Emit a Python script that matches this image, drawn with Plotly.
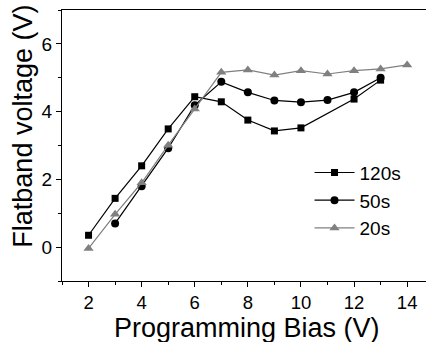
import plotly.graph_objects as go

bias_120 = [2, 3, 4, 5, 6, 7, 8, 9, 10, 12, 13]
vfb_120 = [0.35, 1.44, 2.40, 3.49, 4.44, 4.29, 3.75, 3.43, 3.52, 4.37, 4.93]

bias_50 = [3, 4, 5, 6, 7, 8, 9, 10, 11, 12, 13]
vfb_50 = [0.70, 1.80, 2.92, 4.19, 4.88, 4.57, 4.33, 4.28, 4.34, 4.57, 5.00]

bias_20 = [2, 3, 4, 5, 6, 7, 8, 9, 10, 11, 12, 13, 14]
vfb_20 = [-0.04, 0.97, 1.90, 3.01, 4.08, 5.16, 5.23, 5.08, 5.21, 5.11, 5.21, 5.26, 5.38]

x_ticks = [2, 4, 6, 8, 10, 12, 14]
y_ticks = [0, 2, 4, 6]
x_title = "Programming Bias (V)"
y_title = "Flatband voltage (V)"

FONT = "Liberation Sans, Arial, sans-serif"

fig = go.Figure()
fig.add_trace(go.Scatter(x=bias_120, y=vfb_120, name="120s", mode="lines+markers",
                         line=dict(color="black", width=1.2),
                         marker=dict(symbol="square", size=7, color="black")))
fig.add_trace(go.Scatter(x=bias_50, y=vfb_50, name="50s", mode="lines+markers",
                         line=dict(color="black", width=1.2),
                         marker=dict(symbol="circle", size=8, color="black")))
fig.add_trace(go.Scatter(x=bias_20, y=vfb_20, name="20s", mode="lines+markers",
                         line=dict(color="#808080", width=1.2),
                         marker=dict(symbol="triangle-up", size=9, color="#808080")))

fig.update_layout(
    width=426, height=342,
    margin=dict(l=62, r=0, t=10, b=61),
    paper_bgcolor="white", plot_bgcolor="white",
    font=dict(family=FONT, color="black", size=19),
    showlegend=True,
    legend=dict(x=0.68, y=0.47, xanchor="left", yanchor="top",
                bgcolor="rgba(0,0,0,0)", font=dict(size=19),
                tracegroupgap=0, itemwidth=40),
    xaxis=dict(range=[1, 14.71], tickvals=x_ticks, ticks="outside", ticklen=5,
               tickwidth=1, tickcolor="black", showline=True, linecolor="black",
               linewidth=1.2, mirror=True, showgrid=False, zeroline=False,
               automargin=False,
               minor=dict(dtick=1, tick0=1, ticks="outside", ticklen=3, tickcolor="black"),
               tickfont=dict(size=18.5)),
    yaxis=dict(range=[-1, 7], tickvals=y_ticks, ticks="outside", ticklen=5,
               tickwidth=1, tickcolor="black", showline=True, linecolor="black",
               linewidth=1.2, showgrid=False, zeroline=False,
               automargin=False,
               minor=dict(dtick=1, tick0=1, ticks="outside", ticklen=3, tickcolor="black"),
               tickfont=dict(size=19)),
    annotations=[
        dict(text=x_title, xref="paper", yref="paper", x=0.5096, y=-0.1734,
             xanchor="center", yanchor="middle", showarrow=False,
             font=dict(size=27)),
        dict(text=y_title, xref="paper", yref="paper", x=-0.108, y=0.572,
             xanchor="center", yanchor="middle", showarrow=False, textangle=-90,
             font=dict(size=27)),
    ],
)

fig.write_html("out.html", config={"displayModeBar": False},
               post_script="document.body.style.margin='0px';")
